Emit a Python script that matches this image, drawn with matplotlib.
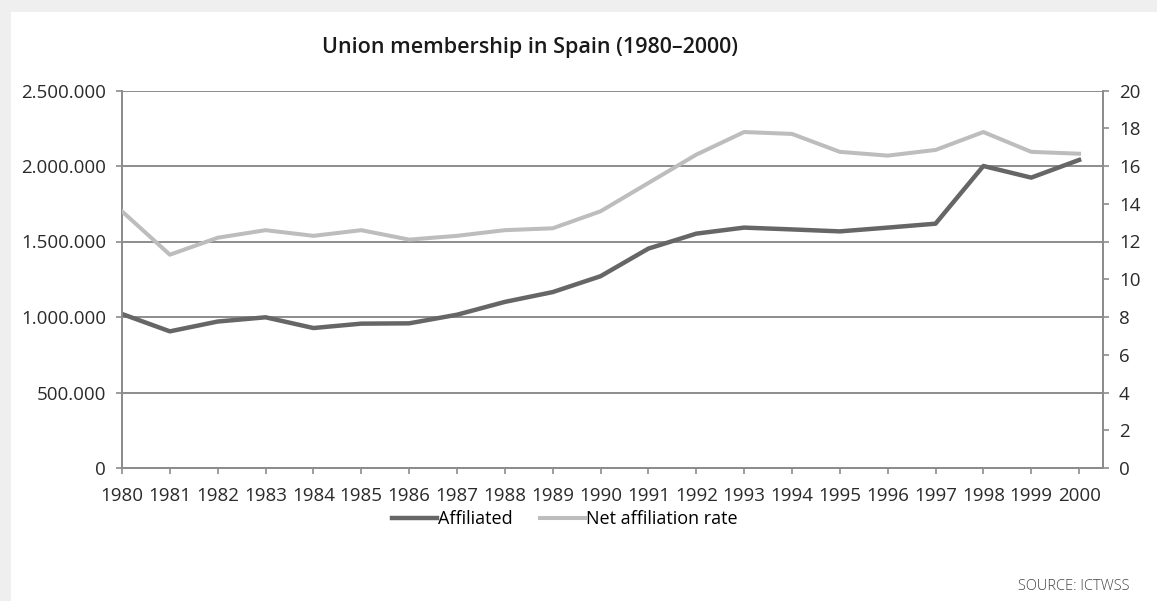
import matplotlib
matplotlib.use("Agg")
import matplotlib.pyplot as plt
from matplotlib.ticker import FuncFormatter, MultipleLocator
from matplotlib.patches import Rectangle

years = list(range(1980, 2001))
affiliated = [1020000, 905000, 970000, 998000, 927000, 956000, 958000, 1015000,
              1100000, 1165000, 1270000, 1453000, 1552000, 1592000, 1580000,
              1567000, 1592000, 1618000, 2000000, 1923000, 2040000]
net_rate = [13.6, 11.3, 12.2, 12.6, 12.3, 12.6, 12.1, 12.3, 12.6, 12.7, 13.6,
            15.1, 16.6, 17.8, 17.7, 16.75, 16.55, 16.85, 17.8, 16.75, 16.65]

title = "Union membership in Spain (1980–2000)"
source = "SOURCE: ICTWSS"

plt.rcParams['font.family'] = ['Open Sans', 'DejaVu Sans']

W, H = 1157, 601
fig = plt.figure(figsize=(W / 100, H / 100), dpi=100, facecolor="#efefef")

# white card behind everything
fig.patches.append(Rectangle((11 / W, 0), 1, 1 - 12 / H, transform=fig.transFigure,
                             facecolor="white", edgecolor="none", zorder=-10))

ax = fig.add_axes([122 / W, 1 - 468 / H, (1103 - 122) / W, (468 - 90.5) / H])
ax.set_facecolor("none")
ax2 = ax.twinx()

grid_c = "#8c8c8c"
ax.plot(years, affiliated, color="#666666", lw=3.2, solid_joinstyle="round",
        label="Affiliated", zorder=4)
ax2.plot(years, net_rate, color="#bdbdbd", lw=2.9, solid_joinstyle="round",
         label="Net affiliation rate", zorder=3)

ax.set_xlim(1980, 2000.5)
ax.set_ylim(0, 2500000)
ax2.set_ylim(0, 20)
ax.set_xticks(years)
ax.set_xticklabels([str(y) for y in years])
ax.yaxis.set_major_locator(MultipleLocator(500000))
ax.yaxis.set_major_formatter(FuncFormatter(lambda v, p: f"{int(v):,}".replace(",", ".")))
ax2.yaxis.set_major_locator(MultipleLocator(2))

ax.grid(axis="y", color=grid_c, lw=1.4)
ax.set_axisbelow(True)

for a in (ax, ax2):
    a.spines["top"].set_visible(False)
    for s in ("left", "right", "bottom"):
        a.spines[s].set_color(grid_c)
        a.spines[s].set_linewidth(1.4)
    a.tick_params(colors=grid_c, labelcolor="#2a2a2a", labelsize=13.5, width=1.2, length=4.5)
ax.tick_params(axis="x", pad=9)
ax.tick_params(axis="y", pad=7)
ax2.tick_params(axis="y", pad=7)

fig.text(530 / W, 1 - 48 / H, title, ha="center", va="center", fontsize=15.5,
         fontweight="semibold", color="#1a1a1a")

h1, l1 = ax.get_legend_handles_labels()
h2, l2 = ax2.get_legend_handles_labels()
fig.legend(h1 + h2, l1 + l2, loc="center", bbox_to_anchor=(565 / W, 1 - 519 / H),
           ncol=2, frameon=False, fontsize=13, handlelength=2.5, handletextpad=0.05,
           columnspacing=1.5)

fig.text(1130 / W, 1 - 586 / H, source, ha="right", va="center", fontsize=10.5,
         color="#444444", fontweight="light")

fig.savefig("out.png", dpi=100, facecolor=fig.get_facecolor())
